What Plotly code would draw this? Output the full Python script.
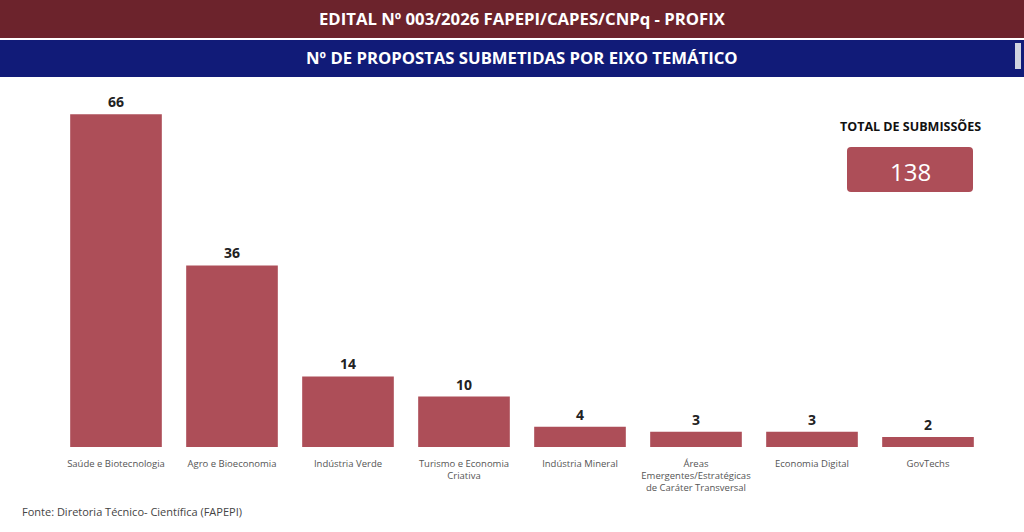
import plotly.graph_objects as go

categories = ['Saúde e Biotecnologia', 'Agro e Bioeconomia', 'Indústria Verde',
              'Turismo e Economia<br>Criativa', 'Indústria Mineral',
              'Áreas<br>Emergentes/Estratégicas<br>de Caráter Transversal',
              'Economia Digital', 'GovTechs']
submissions = [66, 36, 14, 10, 4, 3, 3, 2]
total_submissions = 138

title_top = 'EDITAL Nº 003/2026 FAPEPI/CAPES/CNPq - PROFIX'
title_sub = 'Nº DE PROPOSTAS SUBMETIDAS POR EIXO TEMÁTICO'
source_note = 'Fonte: Diretoria Técnico- Científica (FAPEPI)'

BAR_COLOR = '#AD4E58'
MAROON = '#6C232C'
NAVY = '#111B78'
FONT = 'Open Sans'

W, H = 1024, 532
M_L, M_R, M_T, M_B = 58, 38, 94, 85
PLOT_H = H - M_T - M_B
PLOT_W = W - M_L - M_R


def px_x(p):
    return (p - M_L) / PLOT_W


def px_y(p):
    return (H - M_B - p) / PLOT_H


def rounded_box(w, h, r):
    # path in pixels around the anchor point
    x0, x1, y0, y1 = -w / 2, w / 2, -h / 2, h / 2
    return (f'M {x0 + r},{y0} L {x1 - r},{y0} Q {x1},{y0} {x1},{y0 + r} '
            f'L {x1},{y1 - r} Q {x1},{y1} {x1 - r},{y1} '
            f'L {x0 + r},{y1} Q {x0},{y1} {x0},{y1 - r} '
            f'L {x0},{y0 + r} Q {x0},{y0} {x0 + r},{y0} Z')


fig = go.Figure()

fig.add_trace(go.Bar(
    x=categories,
    y=submissions,
    marker=dict(color=BAR_COLOR, line=dict(width=0)),
    text=submissions,
    textposition='outside',
    cliponaxis=False,
    textfont=dict(family=FONT, size=14, color='#222222', weight='bold'),
    hoverinfo='skip'))

# header bands
fig.add_shape(type='rect', xref='paper', yref='paper',
              x0=px_x(0), x1=px_x(W), y0=px_y(38), y1=px_y(0),
              fillcolor=MAROON, line=dict(width=0), layer='above')
fig.add_shape(type='rect', xref='paper', yref='paper',
              x0=px_x(0), x1=px_x(W), y0=px_y(77), y1=px_y(40),
              fillcolor=NAVY, line=dict(width=0), layer='above')
fig.add_shape(type='rect', xref='paper', yref='paper',
              x0=px_x(1015), x1=px_x(1021), y0=px_y(69), y1=px_y(43),
              fillcolor='#D0D4E0', line=dict(width=0), layer='above')

# total box
fig.add_shape(type='path', xref='paper', yref='paper',
              xsizemode='pixel', ysizemode='pixel',
              xanchor=px_x(910), yanchor=px_y(169.5),
              path=rounded_box(126, 45, 4),
              fillcolor=BAR_COLOR, line=dict(width=0), layer='above')

annotations = [
    dict(text=f'<b>{title_top}</b>', x=0.5, y=px_y(19), xref='paper',
         yref='paper', xanchor='center', yanchor='middle', showarrow=False,
         font=dict(family=FONT, size=16.7, color='white')),
    dict(text=f'<b>{title_sub}</b>', x=0.5, y=px_y(58), xref='paper',
         yref='paper', xanchor='center', yanchor='middle', showarrow=False,
         font=dict(family=FONT, size=16.7, color='white')),
    dict(text='<b>TOTAL DE SUBMISSÕES</b>', x=px_x(910), y=px_y(126),
         xref='paper', yref='paper', xanchor='center', yanchor='middle',
         showarrow=False, font=dict(family=FONT, size=12.5, color='#111111')),
    dict(text=str(total_submissions), x=px_x(910), y=px_y(171),
         xref='paper', yref='paper', xanchor='center', yanchor='middle',
         showarrow=False, font=dict(family=FONT, size=24, color='white')),
    dict(text=source_note, x=px_x(20), y=px_y(511), xref='paper',
         yref='paper', xanchor='left', yanchor='middle', showarrow=False,
         font=dict(family=FONT, size=11, color='#444444')),
]

fig.update_layout(
    width=W, height=H,
    margin=dict(l=M_L, r=M_R, t=M_T, b=M_B, pad=0),
    plot_bgcolor='white', paper_bgcolor='white',
    font=dict(family=FONT),
    bargap=0.21,
    showlegend=False,
    xaxis=dict(showgrid=False, zeroline=False, showline=False,
               ticks='', tickangle=0, ticklabelstandoff=9,
               tickfont=dict(family=FONT, size=9.5, color='#555555')),
    yaxis=dict(range=[0, 70], visible=False, showgrid=False),
    annotations=annotations)

fig.write_html("out.html", config={'displayModeBar': False},
               post_script="document.body.style.margin='0';")
